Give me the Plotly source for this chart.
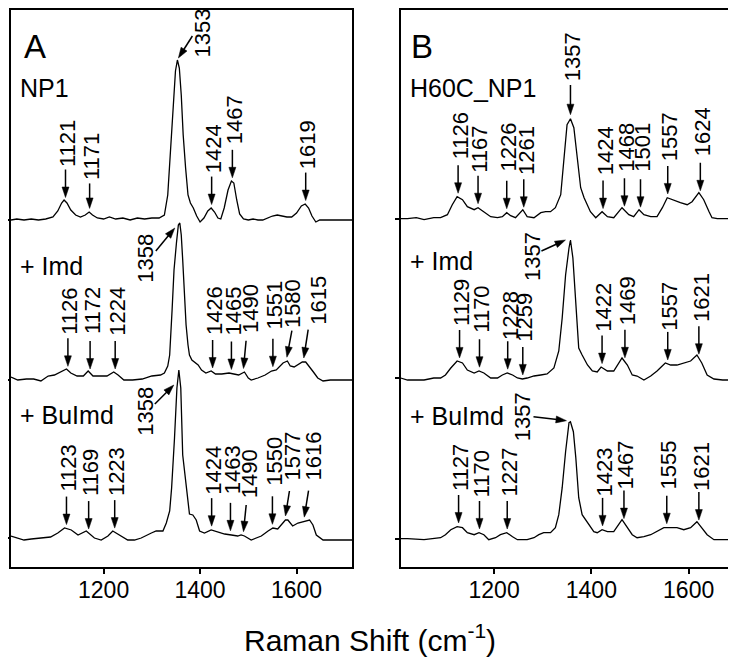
import numpy as np
import plotly.graph_objects as go

# ---------------- data ----------------
# Panel A : NP1
A1_x = [1008,1020,1035,1050,1065,1080,1095,1105,1113,1118,1124,1132,1142,1152,1162,1170,1177,1187,1200,1212,
        1225,1240,1255,1270,1285,1300,1315,1326,1333,1340,1345,1349,1353,1357,1361,1365,1370,1375,1380,1386,
        1393,1400,1408,1416,1423,1430,1437,1443,1450,1458,1465,1470,1476,1482,1490,1500,1510,1520,1530,1540,
        1550,1560,1570,1580,1590,1600,1610,1618,1625,1632,1640,1648,1660,1675,1690,1705,1715]
A1_y = [0,1,0,1,0,1,3,9,17,20,17,10,5,3,5,8,5,2,1,3,
        1,2,0,2,1,2,2,5,25,80,118,149,160,152,125,85,52,25,17,12,
        4,-2,2,9,12,8,2,1,12,30,39,37,20,6,1,0,1,0,0,2,
        4,5,4,3,3,7,14,16,12,4,-2,0,0,0,0,0,0]
A1_labels = [1121, 1171, 1353, 1424, 1467, 1619]

# Panel A : + Imd
A2_x = [1008,1022,1040,1055,1070,1085,1098,1110,1123,1132,1145,1158,1168,1178,1192,1207,1221,1230,1242,1260,
        1280,1300,1318,1326,1333,1337,1342,1346,1351,1355,1358,1361,1364,1368,1371,1375,1378,1383,1389,1396,
        1403,1412,1423,1432,1445,1460,1470,1480,1492,1500,1506,1520,1535,1548,1558,1565,1572,1581,1587,1595,
        1603,1612,1619,1626,1635,1644,1655,1670,1690,1715]
A2_y = [3,0,1,1,-1,4,5,8,11,7,4,4,9,4,4,4,8,5,0,0,
        1,4,5,7,14,25,70,110,137,155,157,145,120,80,55,35,25,20,18,15,
        10,7,9,6,6,7,6,5,8,2,0,2,5,9,10,13,17,19,14,13,
        15,18,18,14,8,2,-1,0,0,0]
A2_labels = [1126, 1172, 1224, 1358, 1426, 1465, 1490, 1551, 1580, 1615]

# Panel A : + BuImd
A3_x = [1008,1020,1035,1050,1070,1090,1105,1119,1133,1147,1164,1181,1195,1209,1219,1237,1250,1264,1278,1299,
        1309,1323,1330,1337,1341,1347,1352,1356,1360,1364,1371,1378,1385,1392,1399,1409,1423,1437,1451,1465,
        1478,1485,1492,1506,1527,1541,1551,1561,1570,1577,1582,1592,1603,1617,1627,1634,1641,1655,1680,1700,
        1715]
A3_y = [2,0,-2,-1,0,1,5,10,8,3,7,0,-2,2,7,2,-2,-2,0,5,
        7,7,15,27,50,100,150,168,150,83,50,24,23,18,7,5,8,6,4,3,
        2,3,2,-2,2,7,10,9,14,18,18,12,15,17,18,13,3,-2,-2,-2,
        -2]
A3_labels = [1123, 1169, 1223, 1358, 1424, 1463, 1490, 1550, 1577, 1616]

# Panel B : H60C_NP1
B1_x = [1008,1022,1040,1056,1076,1090,1104,1114,1124,1135,1145,1159,1167,1179,1193,1207,1217,1226,1234,1244,
        1259,1268,1282,1296,1306,1316,1326,1337,1344,1350,1357,1364,1371,1378,1385,1392,1398,1409,1422,1433,
        1446,1463,1477,1487,1498,1508,1522,1535,1546,1556,1570,1583,1597,1607,1621,1631,1642,1648,1659,1680,
        1707]
B1_y = [0,0,1,-1,1,1,4,14,22,19,12,9,11,7,2,1,2,6,3,1,
        9,2,1,6,7,7,11,24,61,94,100,91,61,31,21,14,7,1,7,2,
        1,11,4,2,9,4,2,2,11,21,18,16,14,17,26,19,7,1,0,0,
        0]
B1_labels = [1126, 1167, 1226, 1261, 1357, 1424, 1468, 1501, 1557, 1624]

# Panel B : + Imd
B2_x = [1008,1022,1056,1076,1090,1100,1111,1124,1135,1145,1159,1169,1179,1193,1207,1217,1227,1238,1248,1258,
        1268,1282,1296,1309,1323,1333,1340,1347,1354,1357,1362,1368,1374,1381,1392,1402,1412,1420,1433,1446,
        1463,1474,1484,1494,1508,1522,1535,1552,1563,1576,1590,1604,1617,1627,1638,1652,1670,1707]
B2_y = [0,-2,-2,0,0,3,10,17,15,8,5,7,5,0,0,3,5,3,0,-1,
        0,2,3,4,10,27,60,103,130,138,120,70,30,23,13,7,6,11,7,7,
        20,13,3,2,-2,2,7,15,13,13,15,17,23,15,3,-1,-2,-2]
B2_labels = [1129, 1170, 1228, 1259, 1357, 1422, 1469, 1557, 1621]

# Panel B : + BuImd
B3_x = [1008,1022,1056,1080,1090,1100,1111,1124,1135,1145,1159,1169,1179,1189,1203,1213,1226,1238,1248,1268,
        1282,1292,1302,1316,1326,1333,1340,1347,1354,1357,1363,1368,1374,1381,1388,1395,1405,1412,1422,1433,
        1446,1463,1474,1484,1494,1508,1522,1535,1549,1563,1576,1590,1604,1617,1627,1638,1652,1670,1707]
B3_y = [0,0,-1,0,1,4,9,12,11,6,4,6,4,-1,1,4,6,2,-1,-1,
        1,4,6,6,11,24,51,87,116,117,107,81,41,24,19,14,7,6,9,7,
        7,19,11,4,1,2,4,7,11,11,11,9,11,17,11,4,-1,-1,-1]
B3_labels = [1127, 1170, 1227, 1357, 1423, 1467, 1555, 1621]

X_TICKS = [1200, 1400, 1600]
PANEL_LETTERS = ["A", "B"]
SAMPLE_NAMES_A = ["NP1", "+ Imd", "+ BuImd"]
SAMPLE_NAMES_B = ["H60C_NP1", "+ Imd", "+ BuImd"]
X_TITLE = "Raman Shift (cm<sup>-1</sup>)"

# ---------------- layout / style ----------------
W, H = 736, 658
FONT = "Liberation Sans, Arial, Helvetica, sans-serif"
PLOT_TOP, PLOT_BOT = 2, 559
YDOM = [(H - PLOT_BOT) / H, (H - PLOT_TOP) / H]
YMAX = PLOT_BOT - PLOT_TOP          # 1 y-unit == 1 pixel

# label geometry (pixels, y up): gap above trace, tip x shift, text offset, arrow tail offset
DEF = dict(gap=4, tdx=0, txt_dx=2, txt_dy=56, tail_dx=0, tail_dy=28)
LAY = {
    "A1": {1121: dict(txt_dy=54), 1171: dict(txt_dy=52, tail_dy=25),
           1353: dict(gap=2, tdx=1, txt_dx=25, txt_dy=25, tail_dx=14, tail_dy=22),
           1467: dict(txt_dy=58)},
    "A2": {1126: dict(txt_dy=55.5), 1172: dict(txt_dy=58), 1224: dict(txt_dy=57.5),
           1358: dict(gap=-5, tdx=-5, txt_dx=-29, txt_dy=-30, tail_dx=-19, tail_dy=-23),
           1426: dict(txt_dy=57.5), 1465: dict(txt_dy=58.5),
           1490: dict(txt_dx=7, txt_dy=60, tail_dx=2.6, tail_dy=27.7),
           1551: dict(txt_dy=62),
           1580: dict(txt_dx=5, txt_dy=54, tail_dx=5, tail_dy=26.6),
           1615: dict(txt_dx=14, txt_dy=58, tail_dx=4.4, tail_dy=28.3)},
    "A3": {1123: dict(txt_dy=56.5), 1169: dict(txt_dy=56.7), 1223: dict(txt_dy=56.7),
           1358: dict(gap=-6, tdx=-6, txt_dx=-29, txt_dy=-26, tail_dx=-19, tail_dy=-19),
           1463: dict(txt_dy=61),
           1490: dict(txt_dx=6, txt_dy=58, tail_dx=2.7, tail_dy=26.7),
           1550: dict(txt_dy=63),
           1577: dict(txt_dx=7, txt_dy=60, tail_dx=4, tail_dy=25),
           1616: dict(txt_dx=9, txt_dy=61, tail_dx=4.3, tail_dy=26.6)},
    "B1": {1126: dict(txt_dy=57), 1167: dict(txt_dy=54), 1226: dict(txt_dy=62), 1261: dict(txt_dy=57),
           1357: dict(txt_dy=58, tail_dy=29.7), 1424: dict(txt_dy=57.5), 1468: dict(txt_dy=59),
           1501: dict(txt_dy=60), 1557: dict(txt_dy=57.5), 1624: dict(txt_dy=59)},
    "B2": {1129: dict(txt_dy=55.5), 1170: dict(txt_dy=58), 1228: dict(txt_dy=54), 1259: dict(txt_dy=58),
           1357: dict(gap=0, tdx=-5, txt_dx=-33, txt_dy=-16.6, tail_dx=-24, tail_dy=-11),
           1469: dict(txt_dy=57.5), 1557: dict(txt_dy=54), 1621: dict(txt_dy=57)},
    "B3": {1127: dict(txt_dy=55.5), 1170: dict(txt_dy=55), 1227: dict(txt_dy=56.7),
           1357: dict(gap=1, tdx=-4, txt_dx=-44, txt_dy=4, tail_dx=-33, tail_dy=4),
           1423: dict(txt_dy=54), 1467: dict(txt_dy=54), 1555: dict(txt_dy=59), 1621: dict(txt_dy=54)},
}

panels = [
    dict(xa="x", ya="y", xr=[1008, 1715], dom=[3 / W, 344 / W], offsets=[347, 187, 29],
         spectra=[("A1", A1_x, A1_y, A1_labels), ("A2", A2_x, A2_y, A2_labels), ("A3", A3_x, A3_y, A3_labels)]),
    dict(xa="x2", ya="y2", xr=[1008, 1707], dom=[392.7 / W, 732.7 / W], offsets=[348.3, 189, 28.3],
         spectra=[("B1", B1_x, B1_y, B1_labels), ("B2", B2_x, B2_y, B2_labels), ("B3", B3_x, B3_y, B3_labels)]),
]

HEAD_L, HEAD_W = 10.5, 7.0
fig = go.Figure()
shapes, annotations = [], []

for p in panels:
    for (key, xs, ys, labels), off in zip(p["spectra"], p["offsets"]):
        fig.add_trace(go.Scatter(x=xs, y=[v + off for v in ys], mode="lines",
                                 line=dict(color="black", width=1.3),
                                 xaxis=p["xa"], yaxis=p["ya"], showlegend=False, hoverinfo="skip"))
        for lab in labels:
            s = {**DEF, **LAY[key].get(lab, {})}
            ytip = off + float(np.interp(lab, xs, ys)) + s["gap"]
            tx, ty = s["tdx"], 0.0
            lx, ly = tx + s["tail_dx"], s["tail_dy"]
            d = np.hypot(lx - tx, ly - ty)
            ux, uy = (lx - tx) / d, (ly - ty) / d
            bx, by = tx + ux * HEAD_L, ty + uy * HEAD_L
            nx, ny = -uy, ux
            c1 = (bx + nx * HEAD_W / 2, by + ny * HEAD_W / 2)
            c2 = (bx - nx * HEAD_W / 2, by - ny * HEAD_W / 2)
            common = dict(xref=p["xa"], yref=p["ya"], xsizemode="pixel", ysizemode="pixel",
                          xanchor=lab, yanchor=ytip, layer="above")
            shapes.append(dict(type="line", x0=lx, y0=ly, x1=bx - ux * 1.0, y1=by - uy * 1.0,
                               line=dict(color="black", width=1.5), **common))
            shapes.append(dict(type="path",
                               path=f"M{tx:.2f},{ty:.2f} L{c1[0]:.2f},{c1[1]:.2f} L{c2[0]:.2f},{c2[1]:.2f} Z",
                               fillcolor="black", line=dict(color="black", width=0.5), **common))
            annotations.append(dict(x=lab, y=ytip, xref=p["xa"], yref=p["ya"], text=str(lab),
                                    textangle=-90, showarrow=False, xanchor="center", yanchor="middle",
                                    xshift=tx + s["txt_dx"], yshift=s["txt_dy"],
                                    font=dict(family=FONT, size=22, color="black")))

# panel letters and sample names (paper coordinates from pixel positions)
def paper_text(txt, xpx, ypx, size):
    return dict(x=xpx / W, y=1 - ypx / H, xref="paper", yref="paper", text=txt, showarrow=False,
                xanchor="left", yanchor="middle", font=dict(family=FONT, size=size, color="black"))

annotations.append(paper_text(PANEL_LETTERS[0], 14, 39, 33))
annotations.append(paper_text(PANEL_LETTERS[1], 401, 38, 33))
for name, ypx in zip(SAMPLE_NAMES_A, [80, 258, 407]):
    annotations.append(paper_text(name, 10, ypx, 25))
for name, ypx in zip(SAMPLE_NAMES_B, [80, 253, 408]):
    annotations.append(paper_text(name, 400, ypx, 25))
annotations.append(dict(x=362 / W, y=1 - 630 / H, xref="paper", yref="paper", text=X_TITLE,
                        showarrow=False, xanchor="center", yanchor="middle",
                        font=dict(family=FONT, size=30, color="black")))

axc = dict(showline=True, linecolor="black", linewidth=1.5, mirror=True, ticks="outside",
           tickcolor="black", tickwidth=1.5, showgrid=False, zeroline=False, fixedrange=True)
lay = dict(width=W, height=H, margin=dict(l=0, r=0, t=0, b=0), plot_bgcolor="white",
           paper_bgcolor="white", shapes=shapes, annotations=annotations, showlegend=False,
           font=dict(family=FONT, color="black"))
for i, p in enumerate(panels):
    sfx = "" if i == 0 else "2"
    lay["xaxis" + sfx] = dict(domain=p["dom"], range=p["xr"], tickvals=X_TICKS,
                             ticktext=[str(t) for t in X_TICKS], ticklen=5, ticklabelstandoff=-3,
                             tickfont=dict(family=FONT, size=23, color="black"),
                             anchor=p["ya"], **axc)
    lay["yaxis" + sfx] = dict(domain=YDOM, range=[0, YMAX], tickvals=p["offsets"], showticklabels=False,
                             ticklen=4, anchor=p["xa"], **axc)
fig.update_layout(**lay)
fig.write_html("out.html")
